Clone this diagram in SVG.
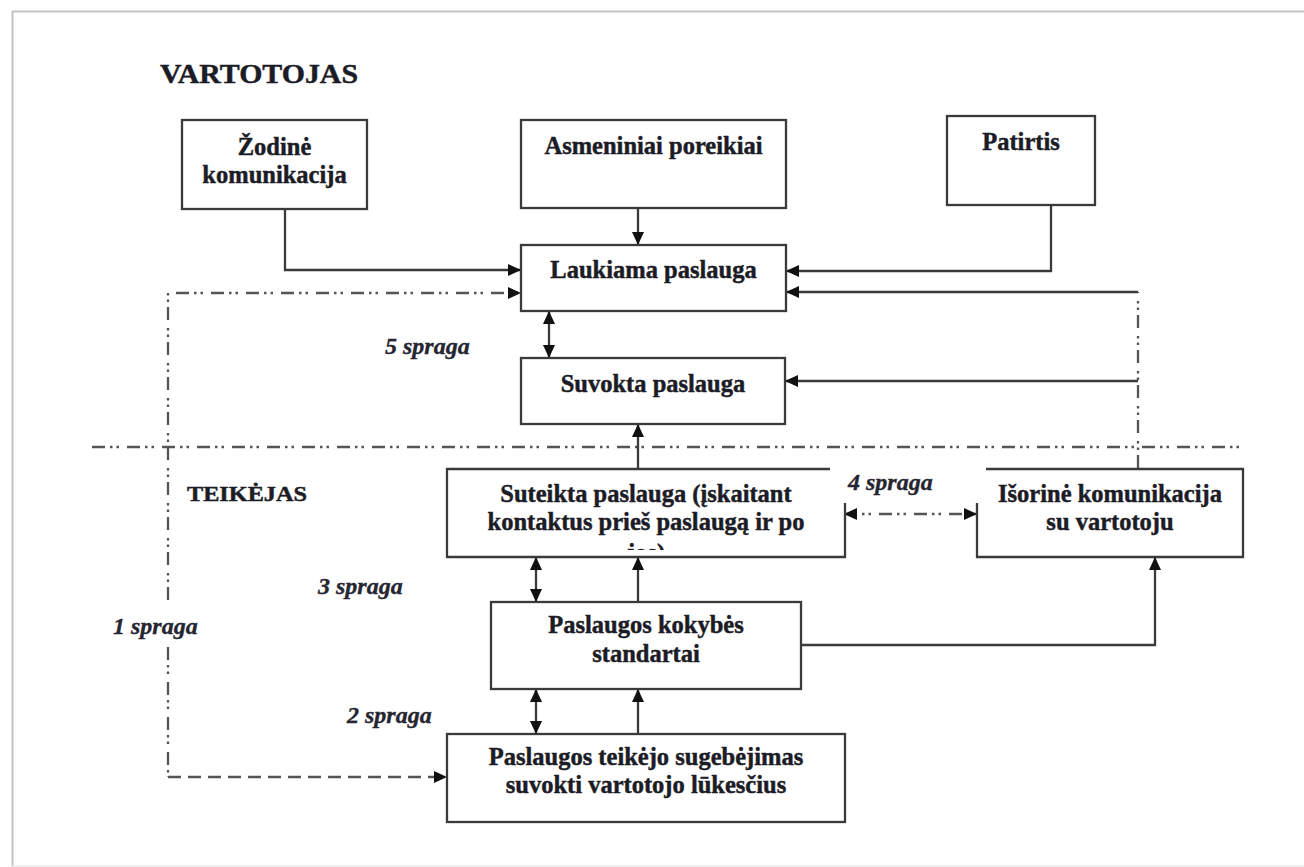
<svg xmlns="http://www.w3.org/2000/svg" width="1304" height="867" viewBox="0 0 1304 867">
  <defs>
    <style>
      .box { fill: #ffffff; stroke: #3a3a3a; stroke-width: 2.3; }
      .open { fill: none; stroke: #3a3a3a; stroke-width: 2.3; }
      .t { font-family: "Liberation Serif", "Times New Roman", serif; font-weight: bold; font-size: 24.5px; fill: #1c1c26; stroke: #1c1c26; stroke-width: 0.45; text-anchor: middle; }
      .head { font-family: "Liberation Serif", "Times New Roman", serif; font-weight: bold; fill: #1c1c26; stroke: #1c1c26; stroke-width: 0.45; }
      .gap { font-family: "Liberation Serif", "Times New Roman", serif; font-weight: bold; font-style: italic; font-size: 24px; fill: #262632; stroke: #262632; stroke-width: 0.35; }
      .solid { fill: none; stroke: #3a3a3a; stroke-width: 2.3; }
      .dashdot { fill: none; stroke: #555555; stroke-width: 2.3; stroke-dasharray: 13 5 2.5 4 2.5 8; }
      .dashed { fill: none; stroke: #555555; stroke-width: 2.3; stroke-dasharray: 13 7; }
    </style>
    <marker id="arrowEnd" markerUnits="userSpaceOnUse" markerWidth="14" markerHeight="12" refX="13" refY="6" orient="auto">
      <path d="M0,0 L13,6 L0,12 Z" fill="#111"/>
    </marker>
    <marker id="arrowStart" markerUnits="userSpaceOnUse" markerWidth="14" markerHeight="12" refX="0" refY="6" orient="auto">
      <path d="M13,0 L0,6 L13,12 Z" fill="#111"/>
    </marker>
    <clipPath id="clipSuteikta">
      <rect x="447" y="469" width="398" height="81"/>
    </clipPath>
  </defs>

  <!-- page background and frame edge -->
  <rect x="0" y="0" width="1304" height="867" fill="#ffffff"/>
  <path d="M12.5 867 V11.5 H1304" fill="none" stroke="#c4c4c4" stroke-width="2"/>
  <path d="M12 866 H1304" fill="none" stroke="#ececec" stroke-width="1.5"/>

  <!-- section headings -->
  <text class="head" x="160" y="83" font-size="28" textLength="198" lengthAdjust="spacingAndGlyphs">VARTOTOJAS</text>
  <text class="head" x="187" y="501" font-size="21" textLength="120" lengthAdjust="spacingAndGlyphs">TEIKĖJAS</text>

  <!-- section divider -->
  <path class="dashdot" d="M92 447 H1245"/>

  <!-- connectors -->
  <g id="connectors">
    <path class="solid" d="M285 209 V270 H521" marker-end="url(#arrowEnd)"/>
    <path class="solid" d="M638 208 V245" marker-end="url(#arrowEnd)"/>
    <path class="solid" d="M1051 205 V271 H786" marker-end="url(#arrowEnd)"/>
    <path class="dashdot" d="M1138 468 V292"/>
    <path class="solid" d="M1138 292 H786" marker-end="url(#arrowEnd)"/>
    <path class="solid" d="M1138 381 H785" marker-end="url(#arrowEnd)"/>
    <path class="dashdot" d="M168 600 V293 H521" marker-end="url(#arrowEnd)"/>
    <path class="dashdot" d="M168 647 V777"/>
    <path class="dashed" d="M168 777 H447" marker-end="url(#arrowEnd)"/>
    <path class="solid" d="M549 311 V358" marker-start="url(#arrowStart)" marker-end="url(#arrowEnd)"/>
    <path class="solid" d="M638 469 V424" marker-end="url(#arrowEnd)"/>
    <path class="solid" d="M536 557 V602" marker-start="url(#arrowStart)" marker-end="url(#arrowEnd)"/>
    <path class="solid" d="M638 602 V557" marker-end="url(#arrowEnd)"/>
    <path class="solid" d="M536 689 V734" marker-start="url(#arrowStart)" marker-end="url(#arrowEnd)"/>
    <path class="solid" d="M638 734 V689" marker-end="url(#arrowEnd)"/>
    <path class="solid" d="M801 645 H1155 V557" marker-end="url(#arrowEnd)"/>
    <path class="dashdot" d="M844 514 H977" marker-start="url(#arrowStart)" marker-end="url(#arrowEnd)"/>
  </g>

  <!-- gap labels -->
  <g id="gap-labels">
    <text class="gap" x="385" y="354">5 spraga</text>
    <text class="gap" x="848" y="490">4 spraga</text>
    <text class="gap" x="318" y="594">3 spraga</text>
    <text class="gap" x="113" y="634">1 spraga</text>
    <text class="gap" x="347" y="723">2 spraga</text>
  </g>

  <!-- nodes -->
  <g id="zodine-komunikacija">
    <rect class="box" x="182" y="120" width="185" height="89"/>
    <text class="t" x="274.5" y="155">Žodinė</text>
    <text class="t" x="274.5" y="183">komunikacija</text>
  </g>

  <g id="asmeniniai-poreikiai">
    <rect class="box" x="521" y="120" width="265" height="88"/>
    <text class="t" x="653.5" y="154">Asmeniniai poreikiai</text>
  </g>

  <g id="patirtis">
    <rect class="box" x="947" y="116" width="148" height="89"/>
    <text class="t" x="1021" y="150">Patirtis</text>
  </g>

  <g id="laukiama-paslauga">
    <rect class="box" x="521" y="245" width="265" height="66"/>
    <text class="t" x="653.5" y="278">Laukiama paslauga</text>
  </g>

  <g id="suvokta-paslauga">
    <rect class="box" x="521" y="358" width="264" height="66"/>
    <text class="t" x="653" y="392">Suvokta paslauga</text>
  </g>

  <g id="suteikta-paslauga">
    <path class="open" d="M830 469 H447 V557 H845 V503"/>
    <text class="t" x="646" y="502">Suteikta paslauga (įskaitant</text>
    <text class="t" x="646" y="530">kontaktus prieš paslaugą ir po</text>
    <text class="t" x="646" y="561" clip-path="url(#clipSuteikta)">jos)</text>
  </g>

  <g id="isorine-komunikacija">
    <path class="open" d="M986 469 H1243 V557 H977 V503"/>
    <text class="t" x="1110" y="502">Išorinė komunikacija</text>
    <text class="t" x="1110" y="530">su vartotoju</text>
  </g>

  <g id="kokybes-standartai">
    <rect class="box" x="491" y="602" width="310" height="87"/>
    <text class="t" x="646" y="633">Paslaugos kokybės</text>
    <text class="t" x="646" y="662">standartai</text>
  </g>

  <g id="teikejo-sugebejimas">
    <rect class="box" x="447" y="734" width="398" height="88"/>
    <text class="t" x="646" y="765">Paslaugos teikėjo sugebėjimas</text>
    <text class="t" x="646" y="793">suvokti vartotojo lūkesčius</text>
  </g>
</svg>
